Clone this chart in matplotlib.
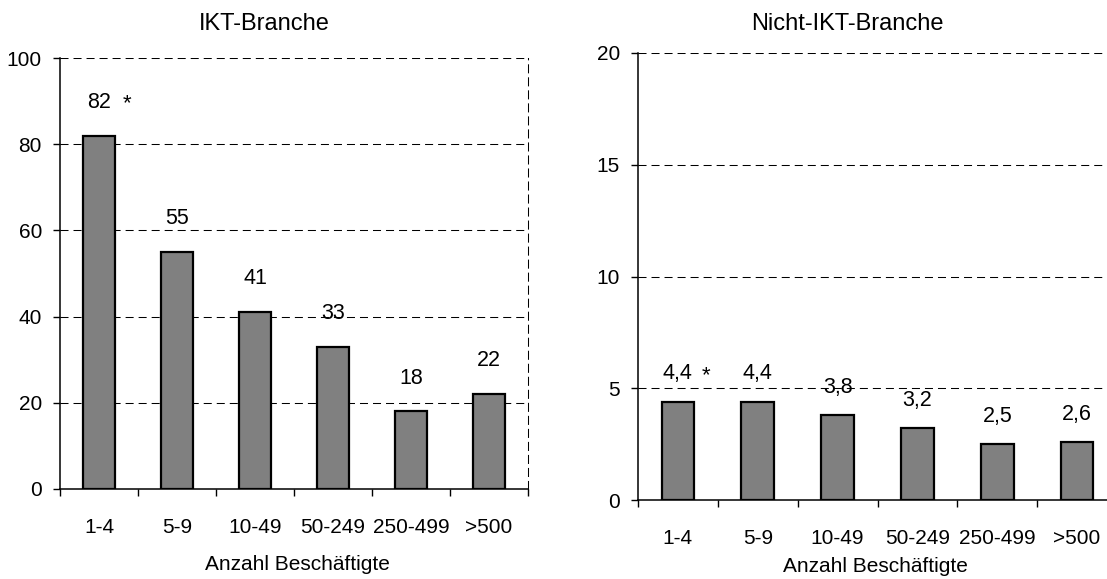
import numpy as np
import matplotlib
matplotlib.use('Agg')
import matplotlib.pyplot as plt

# data
categories = ['1-4', '5-9', '10-49', '50-249', '250-499', '>500']
ikt_values = [82, 55, 41, 33, 18, 22]
ikt_labels = ['82', '55', '41', '33', '18', '22']
nicht_ikt_values = [4.4, 4.4, 3.8, 3.2, 2.5, 2.6]
nicht_ikt_labels = ['4,4', '4,4', '3,8', '3,2', '2,5', '2,6']
ikt_yticks = [0, 20, 40, 60, 80, 100]
nicht_ikt_yticks = [0, 5, 10, 15, 20]

plt.rcParams['font.family'] = ['Liberation Sans', 'DejaVu Sans']
Fontsize = 15
W, H = 1107, 579

fig = plt.figure(figsize=(W / 100, H / 100), dpi=100)


def draw_panel(ax, values, labels, yticks, label_off):
    x = np.arange(len(categories))
    ax.bar(x, values, width=0.41, color='#808080', edgecolor='black',
           linewidth=1.6, zorder=3)
    for xi, v, lab in zip(x, values, labels):
        ax.annotate(lab, (xi, v), xytext=(0, label_off), textcoords='offset points',
                    ha='center', va='center', fontsize=Fontsize + 0.5, zorder=4)
    # asterisk next to first label
    ax.annotate('*', (x[0], values[0]), xytext=(20, label_off - 1),
                textcoords='offset points', ha='center', va='center',
                fontsize=Fontsize + 1)
    ax.set_xlim(-0.5, len(categories) - 0.5)
    ax.set_ylim(yticks[0], yticks[-1])
    ax.set_xticks(x)
    ax.set_xticklabels(categories, fontsize=Fontsize)
    ax.set_xticks(np.arange(-0.5, len(categories) + 0.5, 1.0), minor=True)
    ax.tick_params(axis='x', which='major', length=0, pad=21)
    ax.tick_params(axis='x', which='minor', length=5, width=1.0, direction='out')
    ax.set_yticks(yticks)
    ax.set_yticklabels([str(t) for t in yticks], fontsize=Fontsize)
    ax.tick_params(axis='y', length=5, width=1.0, direction='out', pad=8)
    ax.set_axisbelow(True)
    for t in yticks[1:]:
        ax.axhline(t, color='black', linewidth=0.75, linestyle=(0, (7.7, 4.8)),
                   zorder=1)
    ax.spines['top'].set_visible(False)
    ax.spines['left'].set_linewidth(1.1)
    ax.spines['bottom'].set_linewidth(1.1)
    ax.spines['right'].set_linestyle((0, (7.7, 4.8)))
    ax.spines['right'].set_linewidth(0.75)


ax1 = fig.add_axes([60 / W, (H - 489) / H, 468 / W, 431 / H])
draw_panel(ax1, ikt_values, ikt_labels, ikt_yticks, 24)

ax2 = fig.add_axes([638 / W, (H - 500) / H, 479 / W, 447 / H])
draw_panel(ax2, nicht_ikt_values, nicht_ikt_labels, nicht_ikt_yticks, 20)

fig.text(264 / W, 1 - 24 / H, 'IKT-Branche', ha='center', va='center', fontsize=17)
fig.text(847 / W, 1 - 24 / H, 'Nicht-IKT-Branche', ha='center', va='center', fontsize=17)
fig.text(297 / W, 1 - 565 / H, 'Anzahl Beschäftigte', ha='center', va='center', fontsize=Fontsize)
fig.text(875 / W, 1 - 566 / H, 'Anzahl Beschäftigte', ha='center', va='center', fontsize=Fontsize)

fig.savefig('out.png', dpi=100)
